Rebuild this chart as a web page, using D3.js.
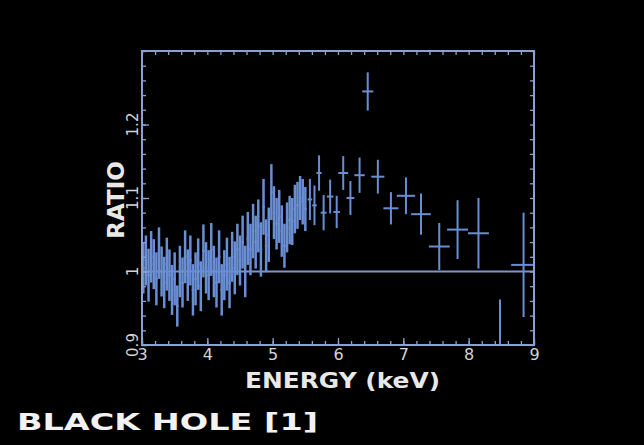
<!DOCTYPE html>
<html><head><meta charset="utf-8">
<script src="https://cdn.jsdelivr.net/npm/d3@7"></script>
<style>html,body{margin:0;padding:0;background:#000;}svg{display:block;}</style>
</head><body>
<svg id="chart" width="644" height="445"></svg>
<script>
// ---- data ----
const energy = [3.02,3.06,3.10,3.14,3.18,3.22,3.26,3.30,3.34,3.38,3.42,3.46,3.50,3.54,3.58,3.62,3.66,3.70,3.74,3.78,3.82,3.86,3.90,3.94,3.98,4.02,4.06,4.10,4.14,4.18,4.22,4.26,4.30,4.34,4.38,4.42,4.46,4.50,4.54,4.58,4.62,4.66,4.70,4.74,4.78,4.82,4.86,4.90,4.94,4.98,5.02,5.06,5.10,5.14,5.18,5.22,5.26,5.30,5.34,5.38,5.42,5.46,5.50,
  5.57,5.64,5.71,5.78,5.88,5.98,6.08,6.19,6.33,6.455,6.61,6.81,7.04,7.27,7.55,7.83,8.15,8.48,8.84];
const ratio = [1.005,1.015,0.995,1.020,1.010,0.990,1.025,1.000,0.985,1.010,0.995,0.975,0.990,0.953,1.000,0.985,1.020,0.995,1.015,0.975,0.990,1.010,0.980,1.028,1.005,0.995,1.030,1.000,0.985,1.020,0.975,0.995,1.010,0.985,1.020,1.005,1.030,1.015,1.040,1.000,1.045,1.030,1.055,1.040,1.062,1.030,1.088,1.035,1.050,1.108,1.080,1.065,1.075,1.055,1.035,1.060,1.070,1.068,1.085,1.090,1.100,1.095,1.085,
  1.098,1.090,1.134,1.080,1.102,1.081,1.134,1.100,1.131,1.245,1.129,1.086,1.103,1.078,1.034,1.057,1.052,0.870,1.009];
const ratioErr = [0.035,0.034,0.036,0.035,0.034,0.036,0.035,0.034,0.035,0.036,0.035,0.034,0.036,0.028,0.035,0.034,0.036,0.035,0.034,0.035,0.036,0.035,0.034,0.036,0.035,0.034,0.036,0.035,0.034,0.036,0.035,0.034,0.036,0.035,0.034,0.036,0.035,0.034,0.036,0.035,0.036,0.035,0.037,0.036,0.036,0.037,0.038,0.036,0.037,0.038,0.036,0.035,0.036,0.035,0.030,0.034,0.033,0.032,0.033,0.032,0.030,0.031,0.030,
  0.028,0.027,0.024,0.024,0.023,0.022,0.023,0.023,0.024,0.026,0.023,0.022,0.025,0.028,0.032,0.040,0.048,0.092,0.071];
const energyHalfWidth = [0.02,0.02,0.02,0.02,0.02,0.02,0.02,0.02,0.02,0.02,0.02,0.02,0.02,0.02,0.02,0.02,0.02,0.02,0.02,0.02,0.02,0.02,0.02,0.02,0.02,0.02,0.02,0.02,0.02,0.02,0.02,0.02,0.02,0.02,0.02,0.02,0.02,0.02,0.02,0.02,0.02,0.02,0.02,0.02,0.02,0.02,0.02,0.02,0.02,0.02,0.02,0.02,0.02,0.02,0.02,0.02,0.02,0.02,0.02,0.02,0.02,0.02,0.02,
  0.035,0.035,0.04,0.045,0.05,0.05,0.075,0.06,0.08,0.085,0.10,0.115,0.14,0.15,0.16,0.16,0.16,0.18,0.19];
const modelEnergy = [3, 9];
const modelRatio = [1, 1];
const xTickLabels = [3,4,5,6,7,8,9];
const yTickLabels = [0.9,1,1.1,1.2];

// ---- layout ----
const svg = d3.select("#chart");
svg.append("rect").attr("width",644).attr("height",445).attr("fill","#000");
const x = d3.scaleLinear().domain([3,9]).range([142,534]);
const y = d3.scaleLinear().domain([0.9,1.3]).range([345,51]);
const frameColor = "#8aa2cf";
const dataColor = "#6a8ed3";
const textColor = "#d4d4d4";

svg.append("defs").append("clipPath").attr("id","plotclip")
  .append("rect").attr("x",142).attr("y",51).attr("width",392).attr("height",294);

const plot = svg.append("g").attr("clip-path","url(#plotclip)");

// model line
plot.append("line")
  .attr("x1",x(modelEnergy[0])).attr("x2",x(modelEnergy[1]))
  .attr("y1",y(modelRatio[0])).attr("y2",y(modelRatio[1]))
  .attr("stroke","#7f96c4").attr("stroke-width",2.2);

const pts = energy.map((e,i)=>({e, r:ratio[i], er:ratioErr[i], hw:energyHalfWidth[i]}));
const g = plot.selectAll("g.pt").data(pts).join("g").attr("class","pt");
g.append("line")
  .attr("x1",d=>x(d.e)).attr("x2",d=>x(d.e))
  .attr("y1",d=>y(d.r+d.er)).attr("y2",d=>y(d.r-d.er))
  .attr("stroke",dataColor).attr("stroke-width",d=>d.hw<0.03?2.5:2);
g.append("line")
  .attr("x1",d=>x(d.e-d.hw)).attr("x2",d=>x(d.e+d.hw))
  .attr("y1",d=>y(d.r)).attr("y2",d=>y(d.r))
  .attr("stroke",dataColor).attr("stroke-width",2);

// ticks (inside the frame)
const minorX = d3.range(3,9.0001,0.2);
const minorY = d3.range(0.9,1.3001,0.02);
const axB = d3.axisBottom(x).tickValues(minorX).tickSizeInner(-4).tickSizeOuter(0).tickFormat("");
const axT = d3.axisTop(x).tickValues(minorX).tickSizeInner(-4).tickSizeOuter(0).tickFormat("");
const axL = d3.axisLeft(y).tickValues(minorY).tickSizeInner(-4).tickSizeOuter(0).tickFormat("");
const axR = d3.axisRight(y).tickValues(minorY).tickSizeInner(-4).tickSizeOuter(0).tickFormat("");
[[axB,"translate(0,345)"],[axT,"translate(0,51)"],[axL,"translate(142,0)"],[axR,"translate(534,0)"]].forEach(([a,t])=>{
  const gg = svg.append("g").attr("transform",t).call(a);
  gg.select(".domain").remove();
  gg.selectAll("line").attr("stroke",frameColor).attr("stroke-width",1.3);
});
const axBM = d3.axisBottom(x).tickValues(xTickLabels).tickSizeInner(-7).tickSizeOuter(0).tickFormat("");
const axLM = d3.axisLeft(y).tickValues(yTickLabels).tickSizeInner(-7).tickSizeOuter(0).tickFormat("");
[[axBM,"translate(0,345)"],[axLM,"translate(142,0)"]].forEach(([a,t])=>{
  const gg = svg.append("g").attr("transform",t).call(a);
  gg.select(".domain").remove();
  gg.selectAll("line").attr("stroke",frameColor).attr("stroke-width",1.3);
});

// frame
svg.append("rect").attr("x",142).attr("y",51).attr("width",392).attr("height",294)
  .attr("fill","none").attr("stroke",frameColor).attr("stroke-width",2);

// tick labels
const xl = d3.axisBottom(x).tickValues(xTickLabels).tickSize(0).tickPadding(0).tickFormat(d3.format("d"));
const xlg = svg.append("g").attr("transform","translate(0,346)").call(xl);
xlg.select(".domain").remove();
xlg.selectAll("text").attr("fill",textColor).attr("font-family","DejaVu Sans, sans-serif")
  .attr("font-size",16).attr("dy","0.9em");

svg.append("g").selectAll("text").data(yTickLabels).join("text")
  .attr("transform",d=>`translate(138,${y(d)}) rotate(-90)`)
  .attr("text-anchor","middle")
  .attr("fill",textColor).attr("font-family","DejaVu Sans, sans-serif").attr("font-size",15)
  .text(d=>d3.format("~g")(d));

// axis titles
svg.append("text").attr("x",245).attr("y",388)
  .attr("fill","#e8e8e8").attr("font-family","DejaVu Sans, sans-serif").attr("font-weight","bold")
  .attr("font-size",21).attr("textLength",195).attr("lengthAdjust","spacingAndGlyphs").text("ENERGY (keV)");
svg.append("text").attr("transform","translate(124,200) rotate(-90)").attr("text-anchor","middle")
  .attr("fill","#e8e8e8").attr("font-family","DejaVu Sans, sans-serif").attr("font-weight","bold")
  .attr("font-size",23).text("RATIO");

// caption
svg.append("text").attr("x",17).attr("y",430)
  .attr("fill","#f2f2f2").attr("font-family","DejaVu Sans, sans-serif").attr("font-weight","bold")
  .attr("font-size",23).attr("textLength",301).attr("lengthAdjust","spacingAndGlyphs")
  .text("BLACK HOLE [1]");
</script>
</body></html>
